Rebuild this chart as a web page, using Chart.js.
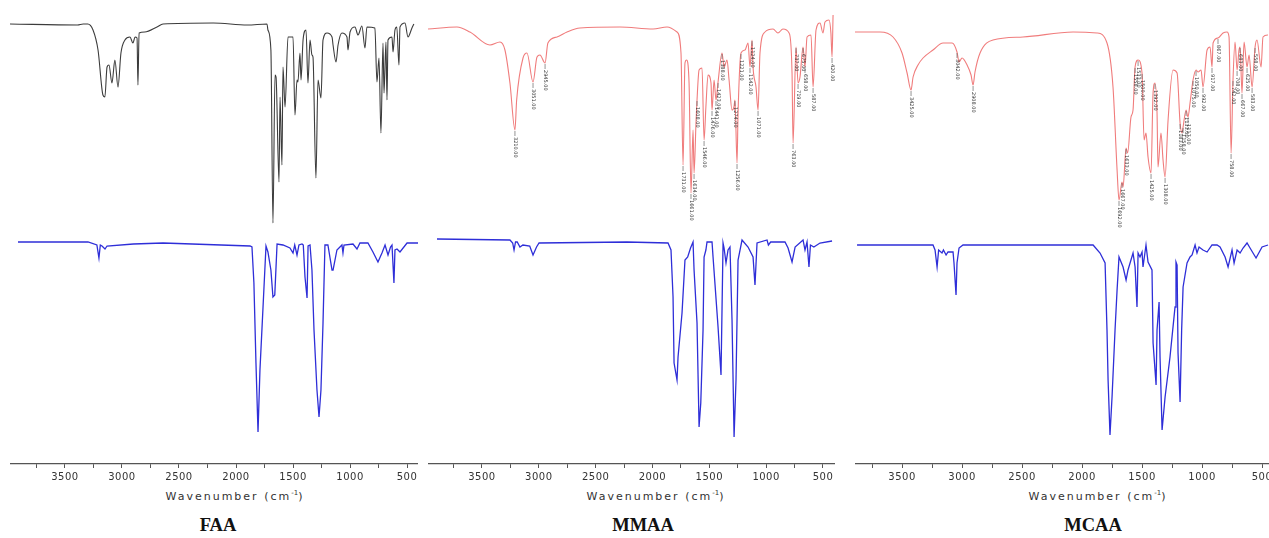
<!DOCTYPE html>
<html>
<head>
<meta charset="utf-8">
<script src="https://cdn.jsdelivr.net/npm/chart.js@4.4.1/dist/chart.umd.min.js"></script>
<style>
  html, body { margin: 0; padding: 0; background: #fff; overflow: hidden; }
  body { width: 1269px; height: 538px; position: relative; }
  canvas { position: absolute; top: 0; }
  .xtitle { position: absolute; top: 489px; transform: translateX(-50%); white-space: nowrap;
            font: 11px "DejaVu Sans", sans-serif; letter-spacing: 2px; color: #333; }
  .xtitle sup { font-size: 7px; letter-spacing: 0; }
  .name { position: absolute; top: 515px; transform: translateX(-50%); white-space: nowrap;
          font: bold 18.5px "Liberation Serif", "Times New Roman", serif; color: #111; }
</style>
</head>
<body>
<canvas id="faa" width="408" height="486" style="left:10px"></canvas>
<canvas id="mmaa" width="407" height="486" style="left:428px"></canvas>
<canvas id="mcaa" width="435" height="486" style="left:855px"></canvas>

<div class="xtitle" style="left:235px">Wavenumber (cm<sup>-1</sup>)</div>
<div class="xtitle" style="left:656px">Wavenumber (cm<sup>-1</sup>)</div>
<div class="xtitle" style="left:1098px">Wavenumber (cm<sup>-1</sup>)</div>
<div class="name" style="left:218px">FAA</div>
<div class="name" style="left:643px">MMAA</div>
<div class="name" style="left:1093px">MCAA</div>

<script>
// tick labels on the wavenumber axis
const majorTicks = [3500, 3000, 2500, 2000, 1500, 1000, 500];
const minorTicks = [3750, 3250, 2750, 2250, 1750, 1250, 750];

// FAA experimental (top, %T) and calculated (bottom) spectra, [wavenumber, value]
const faaExp = [
  [3982, 100], [3390, 99.5], [3340, 100], [3300, 100], [3254, 97], [3210, 87], [3167, 64.5], [3150, 63.5],
  [3131, 78.5], [3114, 79.5], [3088, 70.5], [3062, 82], [3035, 68.5], [3009, 85.5], [2974, 92], [2930, 93.5],
  [2904, 90.5], [2885, 93.5], [2868, 93], [2860, 69.5], [2850, 95.5], [2800, 96], [2693, 98.5], [2640, 100],
  [2200, 100.5], [1900, 99.5], [1728, 100], [1720, 97], [1694, 87], [1676, 0.5], [1658, 74.5], [1649, 73.5],
  [1623, 21], [1614, 63.5], [1597, 29.5], [1588, 78.5], [1570, 58.5], [1544, 93.5], [1500, 93.5], [1483, 54.5],
  [1465, 72], [1457, 71], [1439, 85.5], [1430, 72], [1412, 92], [1386, 97], [1369, 70.5], [1351, 92],
  [1334, 84.5], [1325, 83.5], [1299, 23], [1281, 72], [1255, 63], [1237, 92], [1202, 95.5], [1158, 93.5],
  [1149, 89.5], [1123, 81], [1105, 89.5], [1071, 95.5], [1027, 93.5], [1018, 87], [1000, 96], [957, 98.5],
  [930, 94.5], [896, 99], [869, 88], [852, 98.5], [782, 98], [764, 71], [746, 83], [729, 45.5],
  [711, 90.5], [702, 65.5], [685, 91], [676, 62], [667, 92], [632, 93.5], [623, 86], [606, 97],
  [590, 98.5], [571, 79.5], [562, 98.5], [518, 100.5], [492, 93.5], [457, 98], [440, 100]
];
const faaCalc = [
  [3912, 99], [3298, 99], [3220, 97.5], [3202, 91], [3190, 97.5], [3175, 97], [3149, 95.5], [3131, 97],
  [2900, 98], [2640, 98.5], [1877, 97], [1860, 96.5], [1843, 78.5], [1825, 38.5], [1807, 4], [1790, 35],
  [1763, 66.5], [1737, 97], [1720, 94], [1694, 85], [1676, 71.5], [1660, 72.5], [1640, 98], [1588, 97.5],
  [1527, 96], [1500, 93.5], [1485, 97.5], [1465, 92.5], [1448, 97.5], [1421, 98], [1410, 97.5], [1395, 81.5],
  [1377, 71], [1368, 97], [1351, 97.5], [1334, 85], [1316, 55], [1290, 25], [1272, 11.5], [1255, 25],
  [1237, 58.5], [1220, 97.5], [1194, 97.5], [1158, 85], [1149, 85], [1115, 95], [1071, 97.5], [1062, 93.5],
  [1053, 97.5], [974, 98], [939, 95.5], [913, 98.5], [843, 98.5], [799, 94], [755, 89], [720, 93.5],
  [693, 97.5], [667, 92.5], [645, 96.5], [632, 97.5], [615, 78.5], [606, 95], [588, 95.5], [562, 94],
  [500, 98.5], [404, 98.5]
];

// MMAA experimental and calculated spectra
const mmaaExp = [
  [3975, 97.5], [3720, 98.5], [3606, 96], [3430, 89.5], [3342, 91], [3298, 87], [3254, 70.5], [3210, 47],
  [3195, 62], [3139, 83], [3104, 85.5], [3051, 71], [3016, 83.5], [2990, 84.5], [2945, 80.5], [2920, 90.5],
  [2840, 93.5], [2752, 96], [2638, 98], [2286, 98.5], [1995, 97.5], [1872, 98.5], [1784, 96], [1749, 85.5],
  [1731, 29.5], [1714, 80.5], [1700, 82], [1678, 70.5], [1661, 15.5], [1643, 47], [1634, 25.5], [1617, 50.5],
  [1608, 62], [1590, 77], [1564, 78], [1546, 42], [1530, 58.5], [1511, 74.5], [1485, 70.5], [1476, 57],
  [1458, 72], [1441, 62], [1423, 71], [1388, 85.5], [1370, 78.5], [1344, 82], [1326, 72], [1300, 57],
  [1283, 58.5], [1274, 62], [1256, 30.5], [1247, 55.5], [1221, 85.5], [1186, 87], [1159, 90.5], [1142, 78.5],
  [1124, 92], [1115, 78.5], [1089, 68.5], [1071, 57], [1054, 85.5], [1010, 96], [939, 97.5], [896, 95.5],
  [852, 97.5], [798, 95.5], [772, 75.5], [763, 40.5], [737, 88.5], [719, 70.5], [702, 73.5], [675, 88.5],
  [658, 78.5], [640, 93.5], [605, 94.5], [587, 68.5], [561, 97], [526, 100.5], [500, 95.5], [482, 101],
  [447, 102], [430, 95.5], [420, 83.5], [411, 104.5]
];
const mmaaCalc = [
  [3896, 100.5], [3254, 100], [3230, 98.5], [3218, 95], [3205, 99], [3190, 99], [3166, 96.5], [3140, 97.5],
  [3080, 97], [3051, 92.5], [3020, 96.5], [2998, 98.5], [2224, 99], [1863, 98.5], [1837, 95], [1819, 71.5],
  [1810, 38.5], [1784, 30], [1775, 41.5], [1740, 63.5], [1714, 90], [1690, 91.5], [1665, 96], [1643, 99],
  [1634, 85], [1608, 58.5], [1590, 6.5], [1575, 18.5], [1555, 55], [1546, 91.5], [1530, 95], [1520, 99],
  [1476, 99], [1467, 91.5], [1423, 56.5], [1397, 32.5], [1379, 98.5], [1370, 96], [1353, 88.5], [1335, 95],
  [1318, 96.5], [1300, 60], [1282, 1.5], [1265, 30], [1247, 90], [1212, 100], [1159, 96.5], [1115, 91.5],
  [1098, 77.5], [1080, 98.5], [992, 100], [980, 97.5], [960, 99], [834, 99], [807, 96], [772, 89],
  [745, 96.5], [675, 100], [658, 95], [640, 99], [623, 86.5], [610, 97.5], [580, 96.5], [526, 98.5],
  [420, 99.5]
];

// MCAA experimental and calculated spectra
const mcaaExp = [
  [3958, 96], [3683, 96], [3575, 93.5], [3500, 85.5], [3458, 75.5], [3425, 67], [3408, 73.5], [3367, 79.5],
  [3325, 83], [3242, 87], [3158, 90.5], [3083, 90.5], [3042, 86], [3025, 81], [3000, 83], [2958, 79.5],
  [2925, 74.5], [2908, 69.5], [2892, 76], [2850, 85.5], [2742, 92], [2492, 93.5], [2075, 96], [1875, 95.5],
  [1792, 90.5], [1742, 68.5], [1708, 27], [1692, 12], [1667, 21], [1658, 18.5], [1633, 38], [1620, 35.5],
  [1592, 53.5], [1575, 57], [1558, 78.5], [1533, 82], [1500, 75.5], [1483, 42], [1467, 45.5], [1450, 33.5],
  [1425, 25.5], [1408, 65.5], [1392, 70.5], [1375, 55.5], [1367, 28.5], [1342, 45.5], [1325, 32], [1308, 23.5],
  [1283, 52], [1242, 77], [1208, 75.5], [1183, 50.5], [1167, 45.5], [1158, 48.5], [1133, 57], [1117, 53.5],
  [1100, 60.5], [1075, 72], [1050, 77], [1033, 76], [1008, 77], [992, 68.5], [958, 87], [933, 88.5],
  [917, 78.5], [908, 90.5], [867, 93], [825, 95.5], [792, 96], [775, 93.5], [758, 35.5], [742, 72],
  [725, 91], [708, 77], [692, 87], [683, 88.5], [667, 65.5], [650, 91], [625, 78.5], [608, 84.5],
  [583, 68.5], [558, 88.5], [542, 92], [508, 78.5], [492, 93.5], [450, 94.5]
];
const mcaaCalc = [
  [3875, 97.5], [3242, 97.5], [3225, 95], [3208, 86.5], [3195, 95], [3167, 93.5], [3155, 95], [3133, 92.5],
  [3117, 94], [3075, 94], [3067, 88.5], [3050, 72.5], [3042, 88.5], [3025, 96], [2992, 97.5], [1908, 97.5],
  [1850, 93.5], [1808, 88.5], [1792, 55], [1783, 30], [1767, 2.5], [1750, 21.5], [1725, 55], [1708, 75],
  [1692, 91.5], [1658, 86.5], [1633, 80], [1617, 85], [1575, 93.5], [1558, 86.5], [1542, 66.5], [1533, 93.5],
  [1517, 91.5], [1500, 94], [1492, 86.5], [1467, 97.5], [1450, 89], [1417, 85], [1408, 48.5], [1383, 27.5],
  [1375, 55], [1358, 69], [1350, 41.5], [1333, 5], [1308, 21.5], [1267, 41.5], [1225, 66.5], [1217, 89],
  [1208, 87.5], [1200, 43.5], [1183, 19], [1170, 55], [1158, 76.5], [1125, 88.5], [1100, 91.5], [1083, 92.5],
  [1058, 97.5], [1042, 93.5], [1025, 96.5], [992, 95], [958, 94], [917, 97.5], [875, 97.5], [850, 96.5],
  [808, 91.5], [783, 86.5], [750, 95], [733, 88.5], [708, 95], [683, 93.5], [658, 96], [625, 98.5],
  [600, 96], [550, 91], [500, 96.5], [450, 97.5]
];

// peaks labelled on the experimental spectra
const mmaaPeaks = [3210, 3051, 2945, 1731, 1661, 1634, 1608, 1546, 1476, 1441, 1423, 1388, 1274, 1256,
  1221, 1142, 1124, 1071, 763, 737, 719, 675, 658, 587, 420];
const mcaaPeaks = [3425, 3042, 2908, 1692, 1667, 1633, 1558, 1533, 1500, 1425, 1392, 1308, 1183, 1158,
  1133, 1117, 1075, 1050, 992, 917, 867, 758, 742, 708, 683, 667, 625, 583, 558];

// small vertical peak labels hanging under the peak tips
const peakLabelPlugin = {
  id: 'peakLabels',
  afterDatasetsDraw(chart, args, opts) {
    if (!opts.peaks || !opts.peaks.length) return;
    const meta = chart.getDatasetMeta(0);
    const src = chart.data.datasets[0].data;
    const ctx = chart.ctx;
    ctx.save();
    ctx.letterSpacing = '0px';
    ctx.font = '5px "DejaVu Sans"';
    ctx.fillStyle = '#333';
    ctx.strokeStyle = '#666';
    ctx.lineWidth = 0.7;
    ctx.textBaseline = 'middle';
    opts.peaks.forEach(wn => {
      const i = src.findIndex(p => p.x === wn);
      if (i < 0) return;
      const pt = meta.data[i];
      ctx.beginPath();
      ctx.moveTo(pt.x, pt.y + 1);
      ctx.lineTo(pt.x, pt.y + 6);
      ctx.stroke();
      ctx.save();
      ctx.translate(pt.x, pt.y + 7);
      ctx.rotate(Math.PI / 2);
      ctx.fillText(wn.toFixed(2), 0, 0);
      ctx.restore();
    });
    ctx.restore();
  }
};

const spacingPlugin = {
  id: 'spacing',
  beforeDraw(chart) { chart.ctx.letterSpacing = '0.5px'; }
};

const toXY = pairs => pairs.map(([x, y]) => ({ x, y }));

const makeSpectrum = (id, exp, calc, topColor, xMin, xMax, peaks) => {
  const ctx = document.getElementById(id).getContext('2d');
  return new Chart(ctx, {
    type: 'scatter',
    data: {
      datasets: [
        { data: toXY(exp), yAxisID: 'y', borderColor: topColor, borderWidth: 1.1, cubicInterpolationMode: 'monotone' },
        { data: toXY(calc), yAxisID: 'y2', borderColor: '#2e2ed8', borderWidth: 1.3 }
      ]
    },
    options: {
      responsive: false,
      animation: false,
      showLine: true,
      elements: { point: { radius: 0, hoverRadius: 0 }, line: { tension: 0 } },
      layout: { padding: 0 },
      plugins: {
        legend: { display: false },
        tooltip: { enabled: false },
        peakLabels: { peaks: peaks }
      },
      scales: {
        x: {
          type: 'linear',
          reverse: true,
          min: xMin,
          max: xMax,
          afterBuildTicks: s => { s.ticks = [...majorTicks, ...minorTicks].map(v => ({ value: v })); },
          ticks: {
            autoSkip: false,
            maxRotation: 0,
            padding: 3,
            color: '#333',
            font: { family: 'DejaVu Sans', size: 10 },
            callback: v => majorTicks.includes(v) ? String(v) : ''
          },
          grid: { drawOnChartArea: false, drawTicks: true, tickLength: 4, color: '#555' },
          border: { display: true, color: '#555', width: 1.2 }
        },
        y: { display: false, min: -120, max: 112 },
        y2: { display: false, min: -12, max: 220 }
      }
    },
    plugins: [peakLabelPlugin, spacingPlugin]
  });
};

makeSpectrum('faa', faaExp, faaCalc, '#3c3c3c', 404, 3982, []);
makeSpectrum('mmaa', mmaaExp, mmaaCalc, '#f07c7c', 394, 3975, mmaaPeaks);
makeSpectrum('mcaa', mcaaExp, mcaaCalc, '#f07c7c', 267, 3892, mcaaPeaks);
</script>
</body>
</html>
